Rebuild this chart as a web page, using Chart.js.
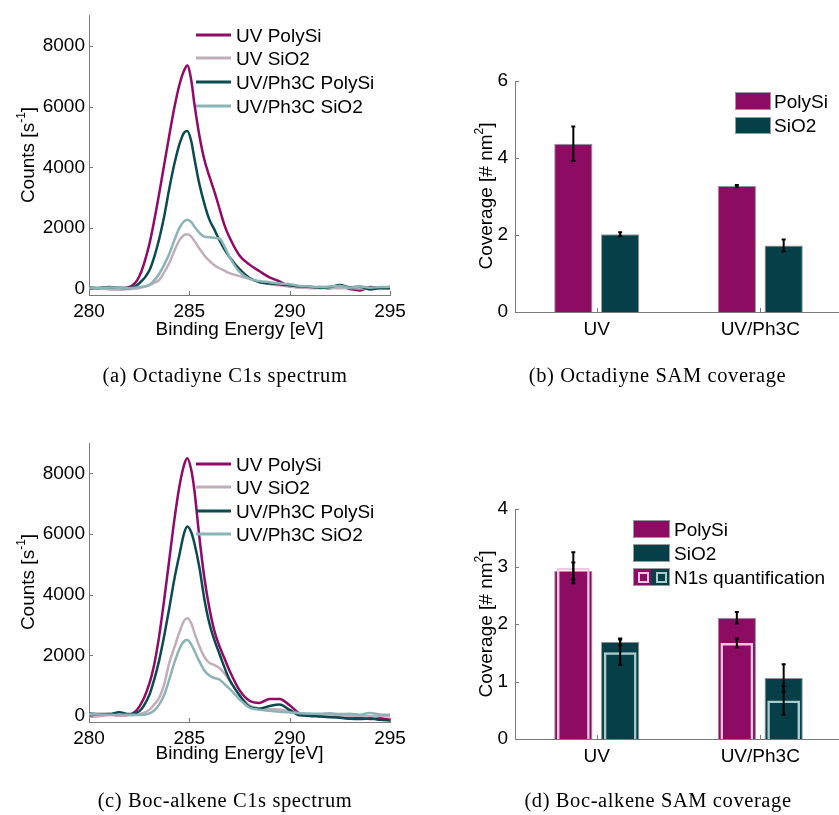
<!DOCTYPE html>
<html>
<head>
<meta charset="utf-8">
<script src="https://cdn.jsdelivr.net/npm/chart.js@4.4.1/dist/chart.umd.min.js"></script>
<style>
  html, body { margin: 0; padding: 0; background: #fff; overflow: hidden; }
  #page { position: relative; width: 839px; height: 815px; font-family: "Liberation Sans", Arial, sans-serif; color: #000; }
  canvas { position: absolute; left: 0; top: 0; }
  .t { position: absolute; white-space: nowrap; font-size: 19px; line-height: 1; }
  .mid { transform: translate(-50%, -50%); }
  .rot { transform: translate(-50%, -50%) rotate(-90deg); }
  .lt { transform: translateY(-50%); }
  .cap { position: absolute; white-space: nowrap; transform: translate(-50%, -50%);
         font-family: "Liberation Serif", serif; font-size: 20.5px; letter-spacing: 0.6px; }
  sup { font-size: 12px; line-height: 0; position: relative; top: -2px; }
  .ll { position: absolute; height: 3px; width: 35px; left: 196px; transform: translateY(-50%); }
  .box { position: absolute; box-sizing: border-box; border: 1px solid #9a9a9a; }
  .sq { position: absolute; box-sizing: border-box; width: 11px; height: 11px; top: 3.5px; border: 2px solid; }
</style>
</head>
<body>
<div id="page">
  <canvas id="cA" width="845" height="815"></canvas>
  <canvas id="cB" width="845" height="815"></canvas>
  <canvas id="cC" width="845" height="815"></canvas>
  <canvas id="cD" width="845" height="815"></canvas>
</div>
<script>
// ── data ─────────────────────────────────────
const ENERGY = [280, 280.5, 281, 281.5, 282, 282.5, 283, 283.25, 283.5, 283.75, 284, 284.25, 284.5, 284.75, 284.9,
  285.1, 285.25, 285.5, 285.75, 286, 286.25, 286.5, 286.75, 287, 287.5, 288, 288.5, 289, 289.5, 290,
  290.5, 291, 291.5, 292, 292.5, 293, 293.5, 294, 294.5, 295];
const X_TICKS = [280, 285, 290, 295];
const COUNT_TICKS = [0, 2000, 4000, 6000, 8000];
const SERIES_NAMES = ['UV PolySi', 'UV SiO2', 'UV/Ph3C PolySi', 'UV/Ph3C SiO2'];

// (a) Octadiyne C1s
const A_UV_POLYSI = [30, 20, 40, 20, 60, 400, 1450, 2250, 3150, 4100, 5050, 5950, 6700, 7200, 7350,
  6850, 6100, 5050, 4250, 3700, 3200, 2650, 2100, 1700, 1100, 800, 580, 380, 250, 80,
  60, 30, 60, 20, 80, 0, -50, 60, 30, 60];
const A_UV_SIO2 = [0, 10, -20, -30, 0, 30, 120, 200, 300, 550, 850, 1250, 1600, 1780, 1800,
  1720, 1580, 1330, 1100, 920, 780, 680, 600, 520, 420, 330, 230, 160, 120, 80,
  50, 30, 20, 40, 20, 30, 10, 20, 0, 20];
const A_PH3C_POLYSI = [50, 30, 60, 40, 30, 180, 600, 1050, 1650, 2400, 3300, 4100, 4750, 5150, 5200,
  4850, 4300, 3450, 2800, 2280, 1950, 1600, 1300, 1050, 650, 360, 220, 180, 150, 120,
  80, 70, 40, 60, 130, 50, 70, -20, 30, 20];
const A_PH3C_SIO2 = [40, 30, 50, 40, 20, 60, 130, 280, 500, 800, 1150, 1600, 2000, 2230, 2280,
  2200, 2050, 1850, 1720, 1700, 1680, 1660, 1400, 1050, 560, 330, 260, 220, 180, 150,
  100, 80, 60, 80, 100, 40, 80, 40, 60, 70];

// (c) Boc-alkene C1s
const C_UV_POLYSI = [50, 30, 60, 20, 40, 300, 1050, 1700, 2650, 3850, 5150, 6450, 7550, 8300, 8500,
  8100, 7450, 5900, 4550, 3550, 2800, 2300, 1900, 1500, 850, 500, 430, 560, 560, 350,
  80, 20, 0, -20, -40, -80, -60, -100, -80, -130];
const C_UV_SIO2 = [-30, -10, 30, 10, 20, 50, 200, 380, 600, 1050, 1750, 2250, 2750, 3150, 3220,
  3050, 2750, 2300, 1950, 1750, 1680, 1580, 1400, 1180, 700, 350, 250, 220, 210, 150,
  80, 50, 30, 40, 20, 0, 10, -10, 10, -20];
const C_PH3C_POLYSI = [80, 60, 60, 120, 60, 150, 680, 1200, 1840, 2650, 3550, 4500, 5300, 6050, 6250,
  6050, 5700, 4900, 3850, 3050, 2500, 2050, 1600, 1200, 680, 300, 240, 330, 380, 200,
  20, 0, -20, -40, -60, -90, -100, -80, -130, -150];
const C_PH3C_SIO2 = [60, 50, 40, 30, 40, 30, 80, 180, 380, 700, 1200, 1750, 2200, 2470, 2500,
  2350, 2150, 1800, 1500, 1330, 1250, 1200, 1050, 900, 550, 270, 200, 170, 140, 110,
  90, 80, 70, 90, 60, 70, 40, 100, 50, 40];

// (b) Octadiyne coverage, (d) Boc-alkene coverage
const TREATMENTS = ['UV', 'UV/Ph3C'];
const B_POLYSI = [4.37, 3.27];
const B_POLYSI_ERR = [0.45, 0.03];
const B_SIO2 = [2.02, 1.73];
const B_SIO2_ERR = [0.05, 0.15];
const B_TICKS = [0, 2, 4, 6];

const D_POLYSI = [2.92, 2.11];
const D_POLYSI_ERR = [0.15, 0.1];
const D_SIO2 = [1.69, 1.06];
const D_SIO2_ERR = [0.06, 0.24];
const D_N1S_POLYSI = [2.98, 1.67];
const D_N1S_POLYSI_ERR = [0.27, 0.08];
const D_N1S_SIO2 = [1.51, 0.67];
const D_N1S_SIO2_ERR = [0.22, 0.25];
const D_TICKS = [0, 1, 2, 3, 4];

// ── style ────────────────────────────────────
const LINE_COLORS = ['#910a67', '#c2aebb', '#0b4a4f', '#8cb4b7'];
const POLY = '#8c0b63';
const OXIDE = '#063f48';
const POLY_N1S = '#ecc9e0';
const OXIDE_N1S = '#a9cdce';
const AXIS = '#7a7a7a';
const TICK_FONT = { family: 'Liberation Sans', size: 19 };
const CW = 845, CH = 815;

function pad(area) {
  return { left: 0, top: area.top, right: CW - area.right, bottom: CH - area.bottom - area.xh };
}

const innerTicks = {
  id: 'innerTicks',
  afterDraw(chart) {
    const { ctx, chartArea: a } = chart;
    const x = chart.scales.x, y = chart.scales.y;
    ctx.save();
    ctx.strokeStyle = AXIS;
    ctx.lineWidth = 1;
    ctx.beginPath();
    x.ticks.forEach((t, i) => {
      const px = Math.round(x.getPixelForTick(i)) + 0.5;
      ctx.moveTo(px, a.bottom); ctx.lineTo(px, a.bottom - 4);
    });
    y.ticks.forEach((t, i) => {
      const py = Math.round(y.getPixelForTick(i)) + 0.5;
      ctx.moveTo(a.left, py); ctx.lineTo(a.left + 4, py);
    });
    ctx.stroke();
    ctx.restore();
  }
};

const errorBars = {
  id: 'errorBars',
  afterDatasetsDraw(chart) {
    const ctx = chart.ctx, y = chart.scales.y;
    ctx.save();
    ctx.strokeStyle = '#000';
    ctx.lineWidth = 2;
    chart.data.datasets.forEach((ds, i) => {
      if (!ds.errors) return;
      chart.getDatasetMeta(i).data.forEach((bar, k) => {
        const hi = y.getPixelForValue(ds.data[k] + ds.errors[k]);
        const lo = y.getPixelForValue(ds.data[k] - ds.errors[k]);
        ctx.beginPath();
        ctx.moveTo(bar.x, hi); ctx.lineTo(bar.x, lo);
        ctx.moveTo(bar.x - 2, hi); ctx.lineTo(bar.x + 2, hi);
        ctx.moveTo(bar.x - 2, lo); ctx.lineTo(bar.x + 2, lo);
        ctx.stroke();
      });
    });
    ctx.restore();
  }
};

function axisScale(extra) {
  return Object.assign({
    grid: { display: false, drawTicks: false },
    border: { color: AXIS, width: 1 },
  }, extra);
}
const plain = v => String(v);

// ── spectra ──────────────────────────────────
function spectrum(id, area, values) {
  new Chart(document.getElementById(id), {
    type: 'line',
    data: {
      datasets: values.map((v, i) => ({
        label: SERIES_NAMES[i],
        data: ENERGY.map((e, k) => ({ x: e, y: v[k] })),
        borderColor: LINE_COLORS[i],
        borderWidth: 2.5,
        pointRadius: 0,
        tension: 0.4,
        cubicInterpolationMode: 'monotone',
        order: values.length - i,
      })),
    },
    options: {
      responsive: false, animation: false, events: [],
      layout: { padding: pad(area) },
      plugins: { legend: { display: false }, tooltip: { enabled: false } },
      scales: {
        x: axisScale({
          type: 'linear', min: 280, max: 295,
          afterBuildTicks: s => { s.ticks = X_TICKS.map(v => ({ value: v })); },
          afterFit: s => { s.height = area.xh; },
          ticks: { font: TICK_FONT, color: '#000', maxRotation: 0, padding: 5, callback: plain },
        }),
        y: axisScale({
          min: -200, max: 9000,
          afterBuildTicks: s => { s.ticks = COUNT_TICKS.map(v => ({ value: v })); },
          afterFit: s => { s.width = area.left; },
          ticks: { font: TICK_FONT, color: '#000', padding: 4, callback: plain },
        }),
      },
    },
    plugins: [innerTicks],
  });
}

// ── coverage bars ────────────────────────────
// filled bars and N1s outlines share a slot through the same stack id
function coverage(id, area, yMax, yTicks, bars, outlines) {
  const datasets = bars.map(b => ({
    label: b.label, data: b.data, errors: b.err, stack: b.stack,
    backgroundColor: b.color, borderColor: 'rgba(140,140,140,0.9)', borderWidth: 1,
    order: 3, categoryPercentage: 0.573, barPercentage: 0.817,
  }));
  (outlines || []).forEach(o => datasets.push({
    label: o.label, data: o.data, errors: o.err, stack: o.stack,
    backgroundColor: 'rgba(0,0,0,0)', borderColor: o.color, borderWidth: 2.5,
    order: 1, categoryPercentage: 0.573, barPercentage: 0.70,
  }));
  new Chart(document.getElementById(id), {
    type: 'bar',
    data: { labels: TREATMENTS, datasets },
    options: {
      responsive: false, animation: false, events: [],
      layout: { padding: pad(area) },
      plugins: { legend: { display: false }, tooltip: { enabled: false } },
      scales: {
        x: axisScale({
          stacked: true,
          afterFit: s => { s.height = area.xh; },
          ticks: { font: TICK_FONT, color: '#000', maxRotation: 0, padding: 6 },
        }),
        y: axisScale({
          stacked: false, min: 0, max: yMax,
          afterBuildTicks: s => { s.ticks = yTicks.map(v => ({ value: v })); },
          afterFit: s => { s.width = area.left; },
          ticks: { font: TICK_FONT, color: '#000', padding: 7, callback: plain },
        }),
      },
    },
    plugins: [errorBars, innerTicks],
  });
}

spectrum('cA', { left: 89, right: 390, top: 15, bottom: 295, xh: 50 },
  [A_UV_POLYSI, A_UV_SIO2, A_PH3C_POLYSI, A_PH3C_SIO2]);
spectrum('cC', { left: 89, right: 390, top: 443, bottom: 722, xh: 50 },
  [C_UV_POLYSI, C_UV_SIO2, C_PH3C_POLYSI, C_PH3C_SIO2]);

coverage('cB', { left: 515, right: 842, top: 81, bottom: 312, xh: 50 }, 6, B_TICKS, [
  { label: 'PolySi', data: B_POLYSI, err: B_POLYSI_ERR, color: POLY, stack: 'p' },
  { label: 'SiO2', data: B_SIO2, err: B_SIO2_ERR, color: OXIDE, stack: 'o' },
]);
coverage('cD', { left: 515, right: 842, top: 509, bottom: 739, xh: 50 }, 4, D_TICKS, [
  { label: 'PolySi', data: D_POLYSI, err: D_POLYSI_ERR, color: POLY, stack: 'p' },
  { label: 'SiO2', data: D_SIO2, err: D_SIO2_ERR, color: OXIDE, stack: 'o' },
], [
  { label: 'N1s PolySi', data: D_N1S_POLYSI, err: D_N1S_POLYSI_ERR, color: POLY_N1S, stack: 'p' },
  { label: 'N1s SiO2', data: D_N1S_SIO2, err: D_N1S_SIO2_ERR, color: OXIDE_N1S, stack: 'o' },
]);

// ── text: titles, legends, captions ──────────
const page = document.getElementById('page');
function put(html, cls, x, y, style) {
  const d = document.createElement('div');
  d.className = cls;
  d.innerHTML = html;
  d.style.left = x + 'px';
  d.style.top = y + 'px';
  if (style) Object.assign(d.style, style);
  page.appendChild(d);
  return d;
}

[[155, 328], [582, 752]].forEach(([yc, xt]) => {
  put('Counts [s<sup>-1</sup>]', 't rot', 27, yc);
  put('Binding Energy [eV]', 't mid', 239.5, xt);
});
put('Coverage [# nm<sup>2</sup>]', 't rot', 485, 196);
put('Coverage [# nm<sup>2</sup>]', 't rot', 485, 624);

[[34.5, 23.8], [463.5, 23.5]].forEach(([y0, dy]) => {
  SERIES_NAMES.forEach((name, i) => {
    const y = y0 + i * dy;
    put('', 'll', 196, y, { background: LINE_COLORS[i] });
    put(name, 't lt', 236, y);
  });
});

// (b) legend
put('', 'box', 735, 92, { width: '36px', height: '18px', background: POLY });
put('PolySi', 't lt', 774, 101);
put('', 'box', 735, 116.5, { width: '36px', height: '17px', background: OXIDE });
put('SiO2', 't lt', 774, 125);

// (d) legend
put('', 'box', 633, 520, { width: '37px', height: '18px', background: POLY });
put('PolySi', 't lt', 674, 529);
put('', 'box', 633, 543.5, { width: '37px', height: '18px', background: OXIDE });
put('SiO2', 't lt', 674, 552.5);
const n1s = put('', 'box', 633, 567.5, { width: '37px', height: '18px',
  background: `linear-gradient(to right, ${POLY} 50%, ${OXIDE} 50%)` });
n1s.innerHTML = `<div class="sq" style="left:3.5px;border-color:${POLY_N1S}"></div>` +
  `<div class="sq" style="left:21.5px;border-color:${OXIDE_N1S}"></div>`;
put('N1s quantification', 't lt', 674, 576.5);

put('(a) Octadiyne C1s spectrum', 'cap', 225, 375);
put('(b) Octadiyne SAM coverage', 'cap', 657.5, 375);
put('(c) Boc-alkene C1s spectrum', 'cap', 225, 800);
put('(d) Boc-alkene SAM coverage', 'cap', 658, 800);
</script>
</body>
</html>
